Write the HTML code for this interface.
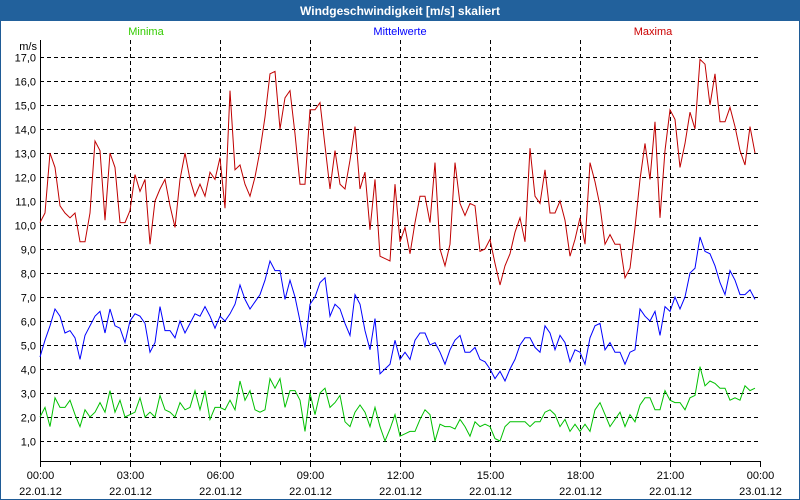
<!DOCTYPE html>
<html><head><meta charset="utf-8"><style>
body{margin:0;background:#fff;}
#wrap{position:relative;width:800px;height:500px;overflow:hidden;}
text{font-family:"Liberation Sans",sans-serif;}
</style></head><body>
<div id="wrap">
<svg id="chart" width="800" height="500" xmlns="http://www.w3.org/2000/svg">
<rect x="0.5" y="0.5" width="799" height="499" fill="#fff" stroke="#1f5b96"/>
<rect x="0" y="0" width="800" height="21" fill="#22619c"/>
<text x="400" y="15" text-anchor="middle" font-size="12" font-weight="bold" fill="#fff">Windgeschwindigkeit [m/s] skaliert</text>
<text x="146" y="35" text-anchor="middle" font-size="11" fill="#33cc00">Minima</text>
<text x="400" y="35" text-anchor="middle" font-size="11" fill="#0000ff">Mittelwerte</text>
<text x="653" y="35" text-anchor="middle" font-size="11" fill="#cc0000">Maxima</text>
<text x="37" y="50" text-anchor="end" font-size="11" fill="#000">m/s</text>
<g id="grid"></g><g id="axes"></g><g id="series"></g>
</svg>
</div>
<script>
const yTicks=[1,2,3,4,5,6,7,8,9,10,11,12,13,14,15,16,17];
const xTickLabels=["00:00","03:00","06:00","09:00","12:00","15:00","18:00","21:00","00:00"];
const xDateLabels=["22.01.12","22.01.12","22.01.12","22.01.12","22.01.12","22.01.12","22.01.12","22.01.12","23.01.12"];
const maxima=[10.1,10.5,13.0,12.4,10.8,10.5,10.3,10.5,9.3,9.3,10.5,13.5,13.1,10.2,13.0,12.4,10.1,10.1,10.6,12.1,11.4,11.9,9.2,11.0,11.5,11.9,10.8,9.9,11.9,13.0,11.9,11.2,11.7,11.2,12.2,11.9,12.8,
10.7,15.6,12.3,12.5,11.7,11.2,12.0,13.1,14.5,16.3,16.4,14.0,15.3,15.6,13.8,11.7,11.7,14.8,14.8,15.1,13.3,11.5,13.1,11.7,11.5,12.7,14.1,11.5,12.2,9.8,11.9,8.7,8.6,8.5,11.7,9.3,
9.9,8.8,10.1,11.2,11.2,10.1,12.6,9.0,8.3,9.2,12.6,10.9,10.4,10.9,10.8,8.9,9.0,9.4,8.4,7.5,8.3,8.8,9.7,10.3,9.3,13.2,11.2,10.9,12.3,10.5,10.5,11.0,10.2,8.7,9.4,10.3,
9.2,12.6,11.8,10.8,9.2,9.6,9.2,9.2,7.8,8.2,9.9,11.9,13.4,11.9,14.3,10.3,13.1,14.8,14.4,12.4,13.4,14.7,14.0,16.9,16.7,15.0,16.3,14.3,14.3,14.9,14.1,13.1,12.5,14.1,13.0];
const mittelwerte=[4.5,5.2,5.8,6.5,6.2,5.5,5.6,5.3,4.4,5.4,5.8,6.2,6.4,5.5,6.5,5.8,5.7,5.1,6.0,6.3,6.2,5.9,4.7,5.1,6.6,5.6,5.6,5.3,6.0,5.5,5.9,6.3,6.2,6.6,6.2,5.7,6.2,
6.0,6.3,6.7,7.5,6.9,6.5,6.8,7.1,7.7,8.5,8.1,8.1,6.9,7.7,7.0,6.0,4.9,6.7,7.0,7.6,7.8,6.2,6.7,6.5,5.9,5.4,7.1,6.7,5.6,4.8,6.1,3.8,4.0,4.2,5.2,4.4,
4.7,4.4,5.2,5.5,5.5,5.0,5.1,4.7,4.2,4.8,5.2,5.4,4.7,4.7,4.9,4.4,4.3,4.0,3.6,3.9,3.5,4.0,4.4,5.0,5.3,5.3,4.9,4.7,5.8,5.5,4.8,5.4,5.1,4.3,4.8,4.7,
4.2,5.3,5.8,5.9,4.8,5.1,4.7,4.7,4.2,4.7,4.8,6.5,6.2,6.0,6.4,5.4,6.6,6.4,7.0,6.5,7.0,8.0,8.2,9.5,8.9,8.8,8.3,7.6,7.1,8.1,7.7,7.1,7.1,7.3,6.9];
const minima=[2.0,2.4,1.6,2.8,2.4,2.4,2.7,2.1,1.6,2.3,2.0,2.2,2.6,2.2,3.1,2.2,2.7,2.0,2.1,2.2,2.8,2.0,2.2,2.0,2.9,2.3,2.2,2.0,2.6,2.3,2.4,3.1,2.3,3.1,1.9,2.4,2.4,
2.3,2.7,2.3,3.5,2.7,3.1,2.3,2.2,2.3,3.6,3.2,3.6,2.4,3.1,3.1,2.7,1.4,3.0,2.1,3.0,3.2,2.4,2.6,2.9,1.8,1.6,2.2,2.5,2.2,1.6,2.4,1.6,1.0,1.5,2.1,1.2,
1.3,1.4,1.4,1.9,2.3,2.1,1.0,1.7,1.6,1.6,1.5,1.9,1.6,1.2,1.8,1.6,1.7,1.6,1.1,1.0,1.6,1.8,1.8,1.8,1.8,1.6,1.8,1.8,2.2,2.3,2.1,1.6,1.9,1.4,1.7,1.4,
1.7,1.4,2.3,2.6,2.1,1.6,1.9,2.2,1.6,2.1,1.8,2.5,2.8,2.8,2.3,2.3,3.1,2.7,2.6,2.6,2.3,2.8,2.9,4.1,3.3,3.5,3.4,3.2,3.2,2.7,2.8,2.7,3.3,3.1,3.2];

const NS="http://www.w3.org/2000/svg";
const L=40,R=760,T=40,B=461;
const yMin=(465-B)/24, yMax=(465-T)/24;
function yS(v){return B-(v-yMin)/(yMax-yMin)*(B-T);}
function xS(i){return L+i*5;} // 10-minute samples, 144 per day
function xH(h){return L+h/24*(R-L);}
function mk(tag,attrs,parent){const e=document.createElementNS(NS,tag);for(const k in attrs)e.setAttribute(k,attrs[k]);parent.appendChild(e);return e;}
const grid=document.getElementById('grid'),axes=document.getElementById('axes'),ser=document.getElementById('series');
yTicks.forEach(v=>{
  const y=Math.round(yS(v))+0.5;
  const g=mk('line',{x1:L,x2:R,y1:y,y2:y,stroke:'#000','stroke-dasharray':'4,3','stroke-width':1},grid);
  
  
  const t=mk('text',{x:36,y:y+4,'text-anchor':'end','font-size':11,fill:'#000'},axes);
  t.textContent=v.toFixed(1).replace('.',',');
  
  
});
xTickLabels.forEach((lab,k)=>{
  const x=Math.round(xH(k*3))+0.5;
  if(k>0&&k<8){
    const g=mk('line',{x1:x,x2:x,y1:T,y2:B,stroke:'#000','stroke-dasharray':'4,3'},grid);
    
    
  }
  const t=mk('text',{x:x,y:479,'text-anchor':'middle','font-size':11,fill:'#000'},axes);
  t.textContent=lab;
  
  
  const d=mk('text',{x:x,y:495,'text-anchor':'middle','font-size':11,fill:'#000'},axes);
  d.textContent=xDateLabels[k];
  
  
});
for(let h=0;h<=24;h++){
  const x=Math.round(xH(h))+0.5;
  const tk=mk('line',{x1:x,x2:x,y1:B,y2:B+(h%3==0?6:4),stroke:'#000'},axes);
  
  
}
const ya=mk('line',{x1:L+0.5,x2:L+0.5,y1:T,y2:B+1,stroke:'#000','stroke-width':1},axes);


const xa=mk('line',{x1:L,x2:R,y1:B+0.5,y2:B+0.5,stroke:'#000'},axes);


function line(data,color,name){
  const p=mk('polyline',{points:data.map((v,i)=>xS(i)+','+yS(v).toFixed(1)).join(' '),fill:'none',stroke:color,'stroke-width':1},ser);
  
  
}
line(minima,'#00c000','minima-line');
line(mittelwerte,'#0000ff','mittelwerte-line');
line(maxima,'#c00000','maxima-line');
</script>
</body></html>
